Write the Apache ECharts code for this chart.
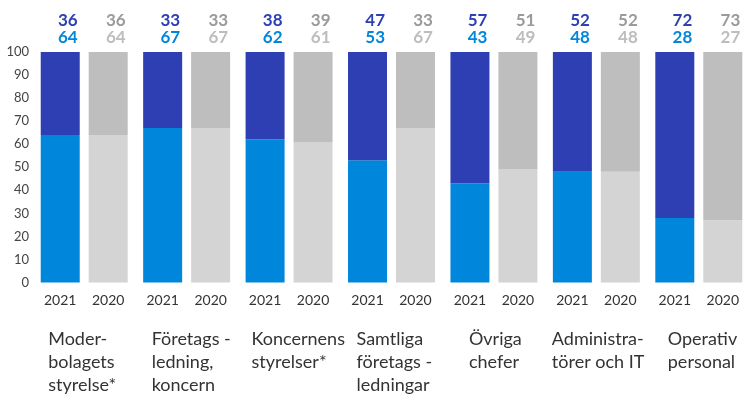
<!DOCTYPE html>
<html>
<head>
<meta charset="utf-8">
<script src="https://cdn.jsdelivr.net/npm/echarts@6/dist/echarts.min.js"></script>
<style>
  html, body { margin: 0; padding: 0; background: #ffffff; }
  #chart { width: 750px; height: 394px; }
</style>
</head>
<body>
<div id="chart"></div>
<script>
// Share (%) per staff group, two years side by side
const groups = [
  'Moder-\nbolagets\nstyrelse*',
  'Företags -\nledning,\nkoncern',
  'Koncernens\nstyrelser*',
  'Samtliga\nföretags -\nledningar',
  'Övriga\nchefer',
  'Administra-\ntörer och IT',
  'Operativ\npersonal'
];
const years = ['2021', '2020'];
const upper2021 = [36, 33, 38, 47, 57, 52, 72];
const lower2021 = [64, 67, 62, 53, 43, 48, 28];
const upper2020 = [36, 33, 39, 33, 51, 52, 73];
const lower2020 = [64, 67, 61, 67, 49, 48, 27];
const yTicks = [0, 10, 20, 30, 40, 50, 60, 70, 80, 90, 100];

const FONT = 'Lato, "Noto Sans", sans-serif';
const C = {
  darkBlue: '#2d3fb2',
  blue: '#0087dc',
  grayUpper: '#bebebe',
  grayLower: '#d4d4d4',
  grayUpperText: '#9a9a9a',
  grayLowerText: '#bdbdbd',
  text: '#333333'
};

// width of the text box under each group (lines are left-aligned inside it)
const groupBoxWidth = [72, 70, 75, 70, 50, 89, 62];
const groupRich = {};
groupBoxWidth.forEach((w, i) => {
  groupRich['g' + i] = {
    width: w, align: 'left', fontSize: 18, lineHeight: 23,
    fontFamily: FONT, color: C.text
  };
});

function yearLabel(year) {
  return {
    show: true, position: 'bottom', distance: 11,
    formatter: year, fontSize: 14, fontFamily: FONT, color: C.text
  };
}

function valueLabel(upper, lower, upperColor, lowerColor) {
  return {
    show: true,
    position: ['100%', 0],
    align: 'right',
    verticalAlign: 'bottom',
    offset: [-2, -6],
    formatter: p => '{u|' + upper[p.dataIndex] + '}\n{l|' + lower[p.dataIndex] + '}',
    rich: {
      u: { fontSize: 17, fontWeight: 'bold', lineHeight: 17, fontFamily: FONT, color: upperColor, align: 'right' },
      l: { fontSize: 17, fontWeight: 'bold', lineHeight: 17, fontFamily: FONT, color: lowerColor, align: 'right' }
    }
  };
}

const chart = echarts.init(document.getElementById('chart'), null, { renderer: 'canvas' });

chart.setOption({
  animation: false,
  backgroundColor: '#ffffff',
  grid: { left: 33, top: 52, width: 723.5, height: 232, containLabel: false },
  xAxis: {
    type: 'category',
    data: groups,
    axisLine: { show: false },
    axisTick: { show: false },
    axisLabel: {
      interval: 0,
      margin: 45,
      align: 'center',
      verticalAlign: 'top',
      formatter: (value, index) =>
        value.split('\n').map(line => '{g' + index + '|' + line + '}').join('\n'),
      rich: groupRich
    }
  },
  yAxis: {
    type: 'value',
    min: yTicks[0],
    max: yTicks[yTicks.length - 1],
    interval: yTicks[1] - yTicks[0],
    splitLine: { show: false },
    axisLine: { show: false },
    axisTick: { show: false },
    axisLabel: { margin: 4, fontSize: 13, fontFamily: FONT, color: '#444444' }
  },
  series: [
    {
      name: years[0] + ' lower', type: 'bar', stack: 'y2021',
      barWidth: 39, barGap: '23%',
      data: lower2021,
      itemStyle: { color: C.blue },
      label: yearLabel(years[0])
    },
    {
      name: years[0] + ' upper', type: 'bar', stack: 'y2021',
      barWidth: 39, barGap: '23%',
      data: upper2021,
      itemStyle: { color: C.darkBlue },
      label: valueLabel(upper2021, lower2021, C.darkBlue, C.blue)
    },
    {
      name: years[1] + ' lower', type: 'bar', stack: 'y2020',
      barWidth: 39, barGap: '23%',
      data: lower2020,
      itemStyle: { color: C.grayLower },
      label: yearLabel(years[1])
    },
    {
      name: years[1] + ' upper', type: 'bar', stack: 'y2020',
      barWidth: 39, barGap: '23%',
      data: upper2020,
      itemStyle: { color: C.grayUpper },
      label: valueLabel(upper2020, lower2020, C.grayUpperText, C.grayLowerText)
    }
  ]
});
</script>
</body>
</html>
